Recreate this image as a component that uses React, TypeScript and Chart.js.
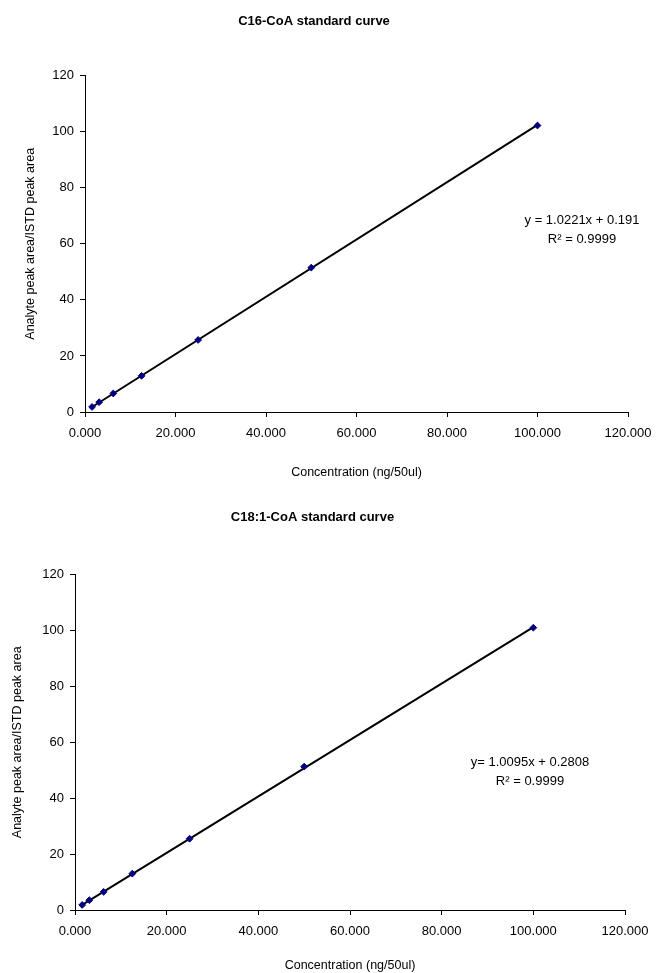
import React, { useEffect, useRef } from "react";
import { Chart, registerables } from "chart.js";

Chart.register(...registerables);

// ---- Data ----
const c16Concentration = [1.5625, 3.125, 6.25, 12.5, 25, 50, 100];
const c16Ratio = [1.8, 3.5, 6.6, 12.9, 25.7, 51.5, 102.2];
const c16TrendX = [1.5625, 100];
const c16TrendY = [1.79, 102.4];
const c16Equation = ["y = 1.0221x + 0.191", "R² = 0.9999"];

const c18Concentration = [1.5625, 3.125, 6.25, 12.5, 25, 50, 100];
const c18Ratio = [1.8, 3.5, 6.5, 13.0, 25.5, 51.3, 101.0];
const c18TrendX = [1.5625, 100];
const c18TrendY = [1.86, 101.2];
const c18Equation = ["y= 1.0095x + 0.2808", "R² = 0.9999"];

const xTickValues = [0, 20, 40, 60, 80, 100, 120];
const yTickValues = [0, 20, 40, 60, 80, 100, 120];

const FONT = '"Liberation Sans", Arial, sans-serif';

const eqPlugin = {
  id: "eqText",
  afterDraw(chart: any, _args: any, opts: any) {
    const ctx = chart.ctx;
    ctx.save();
    ctx.font = `13px ${FONT}`;
    ctx.fillStyle = "#000";
    ctx.textAlign = "center";
    ctx.textBaseline = "middle";
    (opts.lines || []).forEach((t: string, i: number) => {
      ctx.fillText(t, opts.x, opts.y + i * opts.gap);
    });
    ctx.restore();
  },
};

type PanelProps = {
  top: number;
  height: number;
  title: string;
  xs: number[];
  ys: number[];
  tx: number[];
  ty: number[];
  eq: string[];
  eqX: number;
  eqY: number;
  titlePadTop: number;
  titlePadBottom: number;
  yAxisWidth: number;
  yTitlePad: number;
  xAxisHeight: number;
  xTitlePad: number;
  rightPad: number;
};

function Panel(p: PanelProps) {
  const ref = useRef<HTMLCanvasElement | null>(null);
  useEffect(() => {
    if (!ref.current) return;
    const chart = new Chart(ref.current, {
      type: "scatter",
      data: {
        datasets: [
          {
            label: "points",
            data: p.xs.map((x, i) => ({ x, y: p.ys[i] })),
            pointStyle: "rectRot",
            pointRadius: 3.4,
            backgroundColor: "#000080",
            borderColor: "#000080",
            borderWidth: 1,
            showLine: false,
            order: 0,
          },
          {
            label: "trend",
            data: p.tx.map((x, i) => ({ x, y: p.ty[i] })),
            showLine: true,
            borderColor: "#000",
            borderWidth: 2,
            pointRadius: 0,
            order: 1,
          },
        ],
      },
      options: {
        animation: false,
        responsive: true,
        maintainAspectRatio: false,
        layout: { padding: { top: 0, left: 0, bottom: 0, right: p.rightPad } },
        plugins: {
          legend: { display: false },
          tooltip: { enabled: false },
          title: {
            display: true,
            text: p.title,
            color: "#000",
            font: { family: FONT, size: 13, weight: "bold" },
            padding: { top: p.titlePadTop, bottom: p.titlePadBottom },
          },
          eqText: { lines: p.eq, x: p.eqX, y: p.eqY, gap: 19 },
        } as any,
        scales: {
          x: {
            type: "linear",
            min: 0,
            max: 120,
            afterBuildTicks: (s: any) => {
              s.ticks = xTickValues.map((v) => ({ value: v }));
            },
            afterFit: (s: any) => {
              s.height = p.xAxisHeight;
            },
            ticks: {
              color: "#000",
              font: { family: FONT, size: 13 },
              padding: 9,
              maxRotation: 0,
              callback: (v: any) => Number(v).toFixed(3),
            },
            grid: {
              drawOnChartArea: false,
              drawTicks: true,
              tickLength: 5,
              color: "#000",
            },
            border: { display: true, color: "#000", width: 1 },
            title: {
              display: true,
              text: "Concentration (ng/50ul)",
              color: "#000",
              font: { family: FONT, size: 12.5 },
              padding: { top: p.xTitlePad, bottom: 0 },
            },
          },
          y: {
            type: "linear",
            min: 0,
            max: 120,
            afterBuildTicks: (s: any) => {
              s.ticks = yTickValues.map((v) => ({ value: v }));
            },
            afterFit: (s: any) => {
              s.width = p.yAxisWidth;
            },
            ticks: {
              color: "#000",
              font: { family: FONT, size: 13 },
              padding: 6,
            },
            grid: {
              drawOnChartArea: false,
              drawTicks: true,
              tickLength: 5,
              color: "#000",
            },
            border: { display: true, color: "#000", width: 1 },
            title: {
              display: true,
              text: "Analyte peak area/ISTD peak area",
              color: "#000",
              font: { family: FONT, size: 12.5 },
              padding: { top: p.yTitlePad, bottom: 0 },
            },
          },
        },
      } as any,
      plugins: [eqPlugin as any],
    });
    return () => chart.destroy();
  }, []);
  return (
    <div
      style={{
        position: "absolute",
        left: 0,
        top: p.top,
        width: 670,
        height: p.height,
      }}
    >
      <canvas ref={ref} />
    </div>
  );
}

export default function App() {
  return (
    <div style={{ position: "absolute", left: 0, top: 0, width: 670, height: 973, background: "#fff" }}>
      <Panel
        top={0}
        height={480}
        title="C16-CoA standard curve"
        xs={c16Concentration}
        ys={c16Ratio}
        tx={c16TrendX}
        ty={c16TrendY}
        eq={c16Equation}
        eqX={582}
        eqY={220}
        titlePadTop={14}
        titlePadBottom={46}
        yAxisWidth={85}
        yTitlePad={23}
        xAxisHeight={68}
        xTitlePad={12}
        rightPad={42}
      />
      <Panel
        top={480}
        height={493}
        title="C18:1-CoA standard curve"
        xs={c18Concentration}
        ys={c18Ratio}
        tx={c18TrendX}
        ty={c18TrendY}
        eq={c18Equation}
        eqX={530}
        eqY={282}
        titlePadTop={30}
        titlePadBottom={49}
        yAxisWidth={75}
        yTitlePad={10}
        xAxisHeight={63}
        xTitlePad={4}
        rightPad={45}
      />
    </div>
  );
}
